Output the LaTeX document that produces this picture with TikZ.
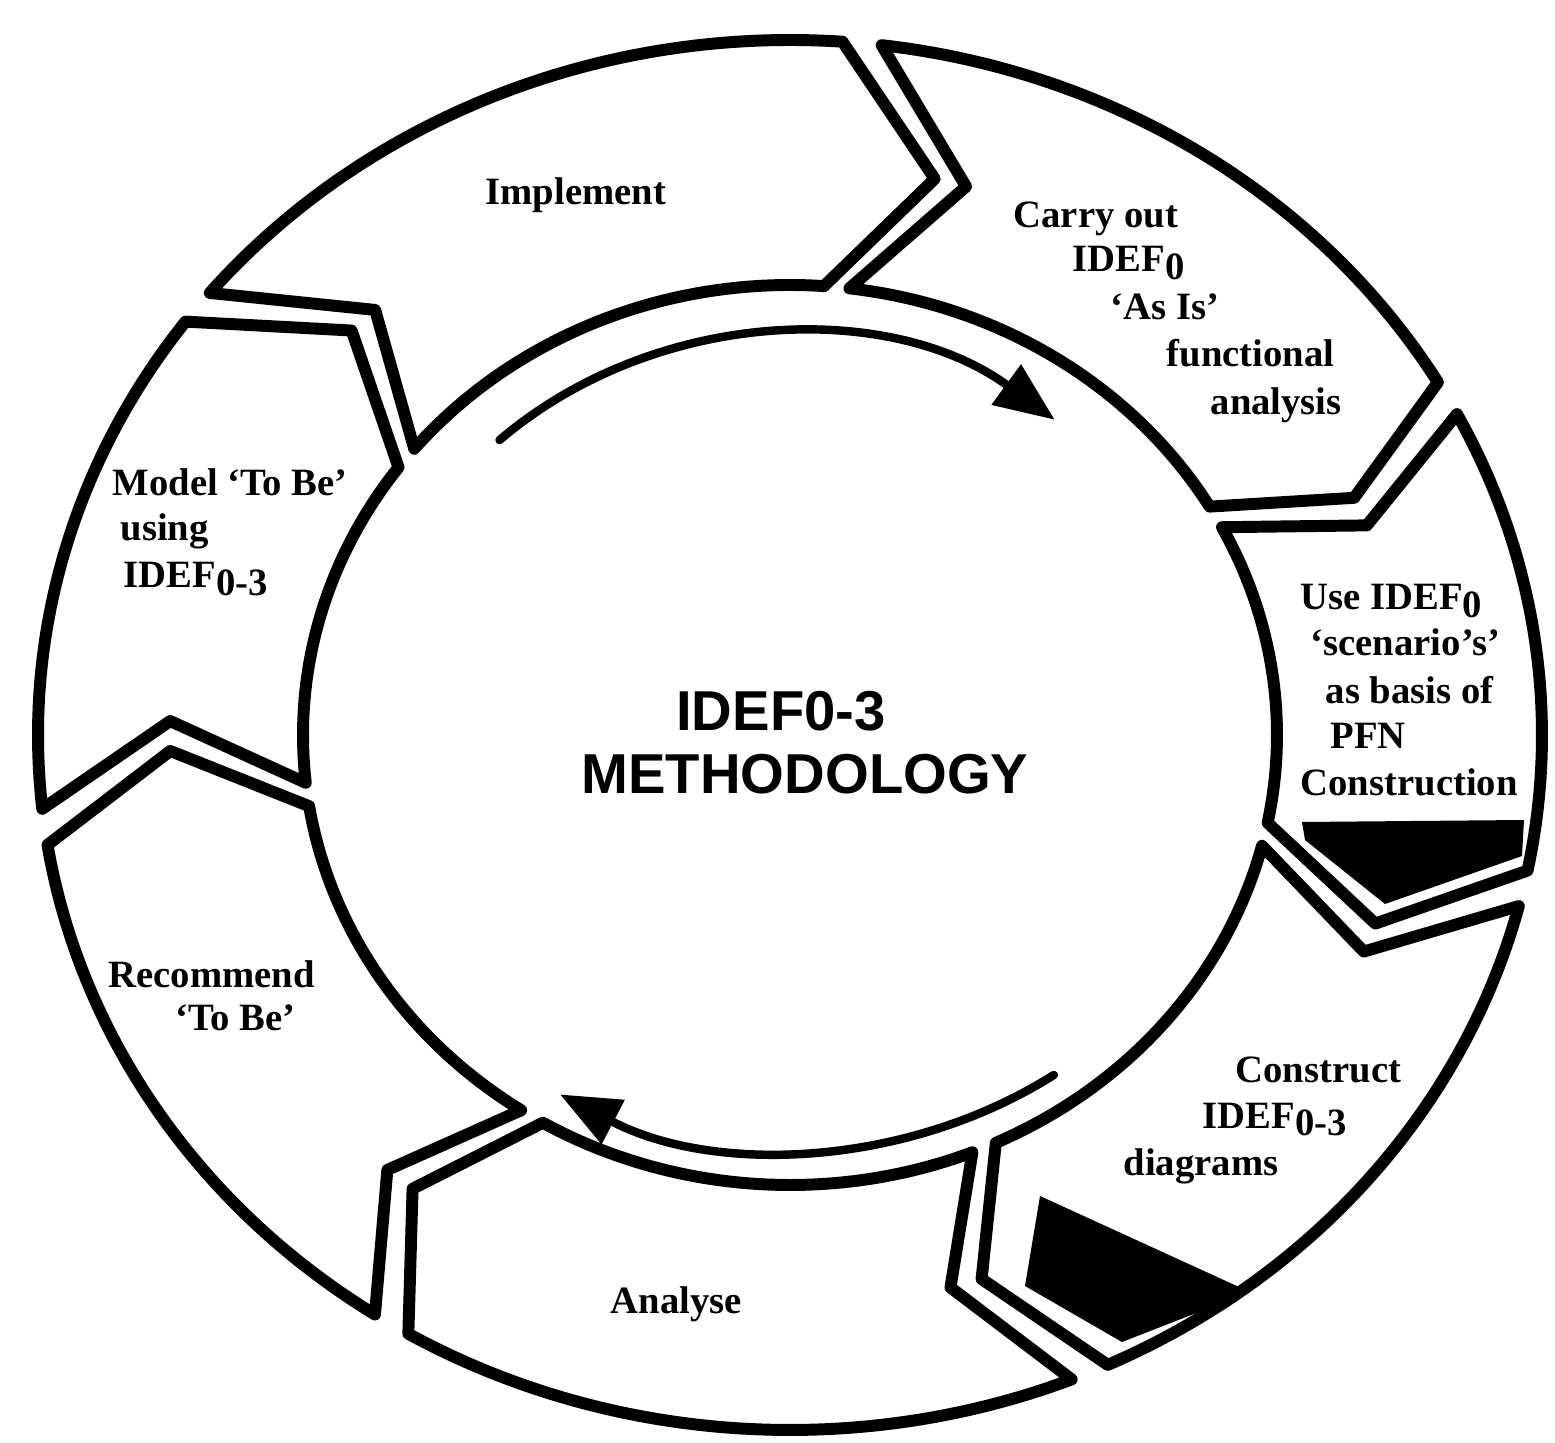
\documentclass[tikz,border=0pt]{standalone}
\usepackage{fontspec}
\setmainfont{Liberation Serif}
\newfontfamily\headfont{Liberation Sans}
\usetikzlibrary{calc,arrows.meta}
\newcommand{\lowtxt}[1]{\raisebox{-0.45ex}{#1}}
\begin{document}
\begin{tikzpicture}[>={Triangle[length=0.6cm,width=0.48cm]}, line join=round, line cap=round,
	segment/.style={draw, line width=3.4pt, fill=white},
	block/.style={fill=black},
	flow/.style={line width=2.4pt},
	lbl/.style={font=\fontsize{11}{13}\selectfont\bfseries, anchor=base west, inner sep=0pt},
	title/.style={font=\fontsize{16}{19}\selectfont\headfont\bfseries, anchor=base, inner sep=0pt}]
	\useasboundingbox (0,0) rectangle (15.55,14.42);
	\coordinate (C) at (7.90,7.07);
	\def\Rx{7.52} \def\Ry{6.95} % outer ring
	\def\Ix{4.87} \def\Iy{4.50} % inner ring
	\def\Mx{6.20} \def\My{5.72} % chevron points
	\def\gap{1.5}
	% seven chevrons, clockwise: back angle / front angle / notch / tip
	\foreach \s/\e/\bk/\fr in {142/84.5/8.5/9.5, 84.5/29/9.5/6, 29/-12.75/6/8, -12.75/-66.5/8/7,
		-66.5/-122/7/7, -122/-172.4/7/7.5, 187.6/142/7.5/8.5}{
		\draw[segment] ($(C)+({\Rx*cos(\s-\gap)},{\Ry*sin(\s-\gap)})$) arc[start angle={\s-\gap}, end angle={\e+\gap}, x radius=\Rx, y radius=\Ry]
			-- ($(C)+({\Mx*cos(\e+\gap-\fr)},{\My*sin(\e+\gap-\fr)})$)
			-- ($(C)+({\Ix*cos(\e+\gap)},{\Iy*sin(\e+\gap)})$) arc[start angle={\e+\gap}, end angle={\s-\gap}, x radius=\Ix, y radius=\Iy]
			-- ($(C)+({\Mx*cos(\s-\gap-\bk)},{\My*sin(\s-\gap-\bk)})$) -- cycle;
	}
	% dark blocks
	\fill[block] (13.02,6.20) -- (15.24,6.22) -- (15.22,5.86) -- (13.85,5.38) -- (13.05,6.02) -- cycle;
	\fill[block] (10.40,2.46) -- (12.50,1.50) -- (11.22,1.00) -- (10.25,1.56) -- cycle;
	% cycle arrows
	\draw[flow,->] ($(C)+({4.3*cos(132.5)},{4.0*sin(132.5)})$) arc[start angle=132.5, end angle=52, x radius=4.3, y radius=4.0];
	\draw[flow,->] ($(C)+({4.6*cos(-55)},{4.15*sin(-55)})$) arc[start angle=-55, end angle=-120, x radius=4.6, y radius=4.15];
	% labels
	\node[lbl] (impl) at (4.85,12.37) {Implement};
	\node[lbl] (carry1) at (10.13,12.14) {Carry out};
	\node[lbl] (carry2) at (10.72,11.70) {IDEF\lowtxt{0}};
	\node[lbl] (carry3) at (11.10,11.22) {`As Is'};
	\node[lbl] (carry4) at (11.66,10.75) {functional};
	\node[lbl] (carry5) at (12.10,10.27) {analysis};
	\node[lbl] (use1) at (13.00,8.32) {Use IDEF\lowtxt{0}};
	\node[lbl] (use2) at (13.10,7.87) {`scenario's'};
	\node[lbl] (use3) at (13.25,7.39) {as basis of};
	\node[lbl] (use4) at (13.30,6.94) {PFN};
	\node[lbl] (use5) at (13.00,6.47) {Construction};
	\node[lbl] (cons1) at (12.35,3.60) {Construct};
	\node[lbl] (cons2) at (12.02,3.14) {IDEF\lowtxt{0-3}};
	\node[lbl] (cons3) at (11.23,2.67) {diagrams};
	\node[lbl] (anal) at (6.10,1.29) {Analyse};
	\node[lbl] (rec1) at (1.08,4.55) {Recommend};
	\node[lbl] (rec2) at (1.75,4.12) {`To Be'};
	\node[lbl] (model1) at (1.12,9.47) {Model `To Be'};
	\node[lbl] (model2) at (1.20,9.02) {using};
	\node[lbl] (model3) at (1.23,8.54) {IDEF\lowtxt{0-3}};
	\node[title] (head1) at (7.81,7.12) {IDEF0-3};
	\node[title] (head2) at (8.05,6.49) {METHODOLOGY};
\end{tikzpicture}
\end{document}
